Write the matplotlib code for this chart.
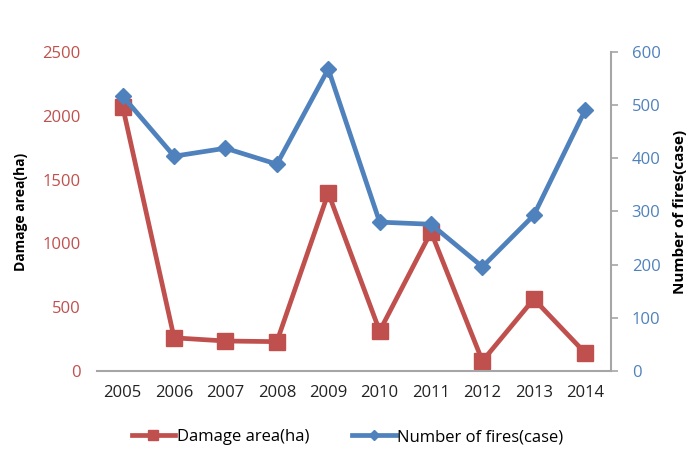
import matplotlib.pyplot as plt

plt.rcParams['font.family'] = ['Open Sans', 'DejaVu Sans']

# Data
years = ['2005', '2006', '2007', '2008', '2009', '2010', '2011', '2012', '2013', '2014']
damage_area = [2070, 260, 235, 230, 1395, 313, 1090, 78, 564, 141]
fire_count = [517, 404, 419, 389, 568, 280, 276, 196, 293, 491]

red = '#C0504D'
blue = '#4F81BD'
grey = '#A6A6A6'

fig = plt.figure(figsize=(6.95, 4.51), dpi=100, facecolor='white')
ax = fig.add_axes([0.1396, 0.1774, 0.7394, 0.7073])
ax2 = ax.twinx()

x = list(range(len(years)))
l1, = ax.plot(x, damage_area, color=red, linewidth=3.4, marker='s', markersize=11,
              label='Damage area(ha)')
l2, = ax2.plot(x, fire_count, color=blue, linewidth=3.4, marker='D', markersize=8,
               label='Number of fires(case)')

ax.set_xlim(-0.5, len(years) - 0.5)
ax.set_ylim(0, 2500)
ax.set_yticks(range(0, 2501, 500))
ax2.set_ylim(0, 600)
ax2.set_yticks(range(0, 601, 100))
ax.set_xticks(x)
ax.set_xticklabels(years)

# only the bottom and right axis lines are drawn
for a in (ax, ax2):
    for s in ('top', 'left', 'right', 'bottom'):
        a.spines[s].set_visible(False)
ax.spines['bottom'].set_visible(True)
ax.spines['bottom'].set_color(grey)
ax.spines['bottom'].set_linewidth(1.5)
ax2.spines['right'].set_visible(True)
ax2.spines['right'].set_color(grey)
ax2.spines['right'].set_linewidth(1.5)

ax.tick_params(axis='y', colors=red, labelcolor=red, length=0, labelsize=12, pad=12)
ax.tick_params(axis='x', length=0, labelsize=12, labelcolor='#222222', pad=10)
ax2.tick_params(axis='y', color=grey, labelcolor=blue, length=5, width=1.2,
                labelsize=12, pad=10)

ax.set_ylabel('Damage area(ha)', fontsize=10, fontweight='bold', labelpad=10)
ax2.set_ylabel('Number of fires(case)', fontsize=11, fontweight='bold', labelpad=9)

fig.legend(handles=[l1, l2], loc='center', bbox_to_anchor=(0.5, 0.031), ncol=2,
           frameon=False, fontsize=12, handlelength=2.6, columnspacing=2.6,
           handletextpad=0.1, markerscale=0.65)

fig.savefig('out.png', dpi=100, facecolor='white')
